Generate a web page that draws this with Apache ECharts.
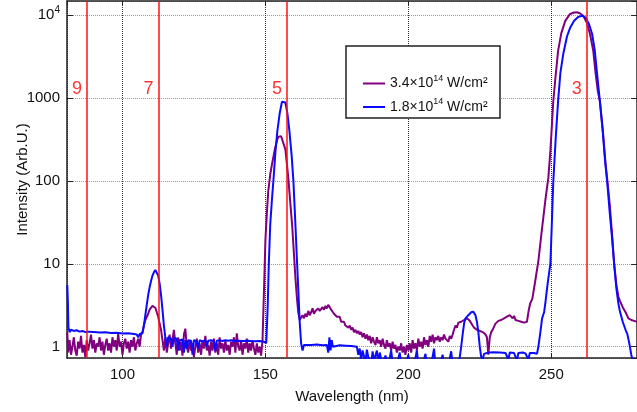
<!DOCTYPE html>
<html>
<head>
<meta charset="utf-8">
<script src="https://cdn.jsdelivr.net/npm/echarts@6/dist/echarts.min.js"></script>
<style>
  html, body { margin: 0; padding: 0; background: #fff; }
  #main { width: 637px; height: 412px; }
</style>
</head>
<body>
<div id="main"></div>
<script>
// series names (^ marks the superscript part)
var seriesNames = ['3.4×10^14 W/cm²', '1.8×10^14 W/cm²'];

// harmonic positions (nm) and their orders
var harmonicWl = [87.6, 112.6, 157.6, 262.4];
var harmonicOrder = ['9', '7', '5', '3'];
var harmonicLabelLevel = 1280;

// 3.4e14 spectrum, [wavelength nm, intensity]
var purpleNoiseA = [[80.7,1.5],[81,0.85],[81.5,1.2],[82,0.8],[82.5,1.0],[83,1.3],[83.5,0.9],[84,0.78],[84.5,1.15],[85,0.95],[85.5,1.35],[86,0.85],[86.5,1.05],[87,0.75],[87.5,1.2],[88,0.9],[88.5,1.1],[89,1.4],[89.5,0.95],[90,1.2],[90.5,0.85],[91,1.1],[91.5,1.0],[92,1.3],[92.5,0.9],[93,1.15],[93.5,0.8],[94,1.05],[94.5,1.25],[95,0.9],[95.5,1.1],[96,0.85],[96.5,1.3],[97,1.0],[97.5,1.2],[98,0.9],[98.5,1.45],[99,1.0],[99.5,1.15],[100,0.8],[100.5,1.1],[101,1.25],[101.5,0.95],[102,1.15],[102.5,0.85],[103,1.2],[103.5,1.0],[104,1.3],[104.5,0.9],[105,1.1],[105.5,1.25],[106,1.0],[106.5,1.4],[107,1.5]];
var purplePeak7 = [[107.5,1.8],[108,2.1],[108.5,2.2],[109,2.5],[109.5,2.8],[110,2.9],[110.5,3.1],[111,3.0],[111.5,2.95],[112,2.6],[112.5,2.3],[113,1.9],[113.5,1.6],[114,1.2]];
var purpleNoiseB = [[114.5,0.9],[115,1.3],[115.5,0.85],[116,1.1],[116.5,1.4],[117,0.95],[117.5,1.2],[118,1.6],[118.5,1.1],[119,0.8],[119.5,1.3],[120,0.9],[120.5,1.15],[121,0.78],[121.5,1.4],[122,1.65],[122.5,1.0],[123,0.85],[123.5,1.2],[124,0.9],[124.5,1.1],[125,0.75],[125.5,1.0],[126,1.25],[126.5,0.85],[127,1.1],[127.5,0.8],[128,1.2],[128.5,0.95],[129,1.35],[129.5,0.9],[130,1.05],[130.5,0.78],[131,1.15],[131.5,0.9],[132,1.25],[132.5,0.85],[133,1.1],[133.5,0.8],[134,1.3],[134.5,0.95],[135,1.1],[135.5,0.85],[136,1.2],[136.5,0.9],[137,1.05],[137.5,0.8],[138,1.15],[138.5,1.0],[139,1.3],[139.5,0.85],[140,1.45],[140.5,1.0],[141,0.9],[141.5,1.2],[142,0.8],[142.5,1.1],[143,0.95],[143.5,1.25],[144,0.85],[144.5,1.1],[145,0.9],[145.5,1.2],[146,0.95],[146.5,0.8],[147,1.1],[147.5,0.85],[148,1.0],[148.5,0.78]];
var purplePeak5 = [[149,1.2],[149.3,2.7],[149.7,8],[150,19],[150.5,40],[151,75],[151.7,120],[152.4,165],[153.3,240],[154.2,320],[154.6,340],[155.5,345],[156,330],[157,240],[158,110],[158.7,55],[159.4,28],[160,13],[160.5,6.8],[161,4],[161.5,2.6],[162,2.1],[163,2.4]];
var purpleMid = [[163.5,2.2],[164,2.5],[164.5,2.3],[165,2.7],[165.5,2.4],[166,2.6],[166.5,2.9],[167,2.5],[167.5,2.7],[168,2.6],[168.5,2.9],[169,2.7],[169.5,2.8],[170,3.0],[170.5,2.8],[171,3.1],[171.5,2.9],[172,3.2],[172.5,3.0],[173,2.8],[173.5,2.7],[174,2.5],[174.5,2.4],[175,2.3],[175.5,2.2],[176,2.3],[176.5,2.0],[177,1.9],[177.5,2.0],[178,1.8],[178.5,1.9],[179,1.7],[179.5,1.8],[180,1.6],[180.5,1.7],[181,1.5],[181.5,1.6],[182,1.45],[182.5,1.55],[183,1.4],[183.5,1.5],[184,1.3],[184.5,1.45],[185,1.25],[185.5,1.4],[186,1.2],[186.5,1.35],[187,1.1],[187.5,1.3],[188,1.15],[188.5,1.05],[189,1.3],[189.5,1.1],[190,1.2],[190.5,1.0],[191,1.25],[191.5,1.05],[192,0.95],[192.5,1.2],[193,1.0],[193.5,1.1],[194,0.9],[194.5,1.15],[195,0.95],[195.5,1.05],[196,0.85],[196.5,1.0],[197,0.9],[197.5,1.1],[198,0.85],[198.5,1.0],[199,0.8],[199.5,1.05],[200,0.9],[200.5,1.1],[201,0.85],[201.5,1.2],[202,0.95],[202.5,1.1],[203,0.9],[203.5,1.25],[204,1.0],[204.5,1.15],[205,0.95],[205.5,1.3],[206,1.05],[206.5,1.2],[207,1.0],[207.5,1.35],[208,1.15],[208.5,1.4],[209,1.1],[209.5,1.3],[210,1.2],[210.5,1.35],[211,1.15],[211.5,1.3],[212,1.2],[212.5,1.4],[213,1.25],[213.5,1.3],[214,1.15],[214.5,1.35],[215,1.25],[215.5,1.4],[216,1.6],[216.5,1.8],[217,1.7],[217.5,1.95],[218,1.85],[218.5,2.0],[219,1.9],[219.5,2.1],[220,2.0],[220.5,2.2],[221,2.1],[221.5,2.05],[222,1.95],[222.5,1.8],[223,1.7],[223.5,1.75],[224,1.6],[224.5,1.65],[225,1.55],[225.5,1.6],[226,1.5],[226.5,1.55],[227,1.4],[227.5,1.3],[228,0.8],[228.5,1.3],[229,1.5],[229.5,1.6],[230,1.75],[230.5,1.9],[231,2.0],[231.5,2.05],[232,1.95],[232.5,2.1],[233,2.05],[233.5,2.2],[234,2.1],[234.5,2.3],[235,2.2],[235.5,2.4],[236,2.3],[236.5,2.2],[237,2.35],[237.5,2.1],[238,2.2],[238.5,2.05],[239,2.15],[239.5,2.0],[240,2.1],[240.5,1.95],[241,2.05],[241.5,2.0]];
var purplePeak3 = [[242,2.6],[242.6,3.3],[243.4,3.8],[244.4,6.2],[245.5,10.8],[246.5,22],[247.9,57],[249,110],[249.7,230],[250.2,450],[250.7,900],[251.5,1800],[252.4,3700],[253.5,6000],[254.9,8500],[256.6,10300],[258,10700],[259,10800],[260,10500],[261.2,9800],[262.5,8000],[263.5,6000],[264.7,3700],[265.5,2000],[266.3,1200],[267,920],[268,420],[269,160],[269.7,95],[270.5,50],[271.3,22],[272,10],[272.8,5.5],[273.5,4],[274,3.6],[275,3.0],[276,2.6],[276.6,2.5],[277,2.2],[277.5,2.3],[278,2.1],[278.5,2.2],[279,2.05],[279.5,2.1],[280,2.0]];

// 1.8e14 spectrum, [wavelength nm, intensity]
var blueLow = [[80.7,5.5],[80.9,3.5],[81.1,1.7],[81.5,1.5],[82,1.6],[83,1.55],[84,1.58],[85,1.52],[86,1.55],[87,1.5],[88,1.52],[90,1.5],[92,1.48],[94,1.49],[96,1.46],[98,1.47],[100,1.44],[102,1.45],[104,1.42],[105,1.4],[105.5,1.3],[106,1.42],[106.5,1.35],[107,1.45]];
var bluePeak7 = [[107.5,1.8],[108,2.4],[108.5,3.2],[109,4.2],[109.5,5.2],[110,6.2],[110.5,7.2],[111,7.9],[111.5,8.4],[112,8.2],[112.5,7.2],[113,5.8],[113.5,4.2],[114,2.8],[114.5,1.8],[115,1.3]];
var blueFlat = [[115.5,1.0],[116,1.3],[117,1.25],[117.5,1.0],[118,1.28],[119,1.25],[119.5,0.9],[120,1.2],[121,1.22],[121.5,0.85],[122,1.2],[122.5,0.95],[123,1.2],[124,1.18],[124.5,0.8],[125,1.2],[126,1.15],[126.5,0.95],[127,1.2],[128,1.15],[129,1.2],[129.5,1.0],[130,1.18],[131,1.2],[132,1.15],[132.5,0.9],[133,1.18],[134,1.2],[135,1.17],[136,1.2],[137,1.18],[138,1.2],[139,1.17],[140,1.18],[142,1.17],[144,1.18],[146,1.16],[148,1.17],[149.5,1.15],[150.3,1.1]];
var bluePeak5 = [[150.8,3],[151.2,10],[151.7,30],[152.3,60],[152.8,100],[153.5,220],[154.2,400],[155,650],[155.8,900],[156.3,950],[157,880],[157.7,650],[158.4,400],[159.2,200],[159.8,100],[160.5,30],[161,12],[161.5,5],[162,2],[162.5,1.1],[163,0.9]];
var blueMid = [[163.5,1.05],[164,1.06],[166,1.05],[168,1.06],[170,1.04],[171.5,1.05],[172,0.85],[172.4,1.3],[172.8,0.9],[173.2,1.2],[173.6,1.0],[174,1.05],[176,1.04],[178,1.03],[180,1.02],[182,1.0],[182.5,0.8],[183,0.95],[183.5,0.7],[184,0.9],[185,0.65],[185.5,0.92],[186,0.75],[187,0.6],[187.5,0.88],[188,0.68],[189,0.9],[189.5,0.62],[190,0.85],[191,0.6],[192,0.78],[193,0.6],[194,0.9],[194.5,0.65],[196,0.6],[197,0.85],[197.5,0.6],[199,0.6],[200,0.8],[200.5,0.6],[202,0.6],[203,0.9],[203.5,0.62],[205,0.6],[206,0.82],[206.5,0.6],[208,0.6],[209,0.95],[209.5,0.6],[211,0.6],[212,0.8],[212.5,0.6],[214,0.6],[215,0.88],[215.5,0.62],[217,0.6],[218,0.75]];
var blueBump = [[218.5,1.0],[219,1.4],[219.5,1.9],[220,2.2],[221,2.4],[222,2.6],[222.7,2.65],[223.5,2.4],[224,2.0],[224.5,1.5],[225,1.0],[225.5,0.75],[226,0.7],[226.5,0.82],[227,0.84],[228,0.85],[230,0.86],[232,0.85],[234,0.84],[235,0.7],[235.5,0.85],[237,0.84],[238,0.68],[238.5,0.84],[240,0.85],[241,0.83],[242,0.7],[242.5,0.84],[244,0.84],[245,0.82]];
var bluePeak3 = [[245.5,1.0],[246.2,1.5],[246.8,2.2],[247.5,2.6],[248,3.5],[248.8,6],[249.7,10],[250.2,30],[250.7,95],[251.5,300],[252.4,920],[253.2,2000],[254.2,3380],[255.5,5500],[256.6,7000],[258,8500],[259.5,9500],[260.8,9800],[262,9300],[263.2,7800],[264.3,5900],[265.2,3800],[266,2000],[267,920],[268,400],[268.8,180],[269.6,95],[270.5,40],[271.3,20],[272,10],[272.8,5],[273.5,3.3],[274,2.7],[275,2.0],[276,1.6],[276.6,1.43],[277.3,1.1],[278,0.8],[278.3,0.72],[278.8,0.6]];

var purpleData = [].concat(purpleNoiseA, purplePeak7, purpleNoiseB, purplePeak5, purpleMid, purplePeak3);
var blueData = [].concat(blueLow, bluePeak7, blueFlat, bluePeak5, blueMid, blueBump, bluePeak3);

var FONT = 'Liberation Sans';
var chart = echarts.init(document.getElementById('main'));

function supText(name) {
  return '{b|' + name.replace(/\^(\d+)/, '}{s|$1}{b|') + '}';
}

var supRich = {
  b: { fontFamily: FONT, fontSize: 15, color: '#111', lineHeight: 20 },
  s: { fontFamily: FONT, fontSize: 10, color: '#111', lineHeight: 12, verticalAlign: 'top' }
};

var option = {
  animation: false,
  backgroundColor: '#fff',
  grid: { left: 67, right: 0, top: 1, bottom: 54, outerBoundsMode: 'none' },
  graphic: [{
    type: 'rect', z: 50,
    shape: { x: 346, y: 46, width: 154, height: 72 },
    style: { fill: '#fff', stroke: '#222', lineWidth: 1.5 }
  }],
  legend: {
    z: 100,
    data: seriesNames,
    orient: 'vertical',
    left: 358, top: 69,
    itemWidth: 22, itemHeight: 2, itemGap: 7,
    icon: 'rect',
    formatter: supText,
    textStyle: {
      rich: {
        b: { fontFamily: FONT, fontSize: 14, color: '#111', lineHeight: 19 },
        s: { fontFamily: FONT, fontSize: 9, color: '#111', lineHeight: 11, verticalAlign: 'top' }
      }
    }
  },
  xAxis: [{
    type: 'value', min: 80.6, max: 280, splitNumber: 4,
    name: 'Wavelength (nm)', nameLocation: 'middle', nameGap: 31,
    nameTextStyle: { fontFamily: FONT, fontSize: 15, color: '#111' },
    axisLine: { lineStyle: { color: '#222', width: 1.5 } },
    axisTick: { inside: true, length: 5, lineStyle: { color: '#222' } },
    axisLabel: { fontFamily: FONT, fontSize: 15, color: '#111', margin: 9, showMinLabel: false, showMaxLabel: false },
    splitLine: { show: true, lineStyle: { type: 'dotted', color: '#333', width: 1 } }
  }, {
    type: 'value', min: 80.6, max: 280, splitNumber: 4, position: 'top',
    axisLine: { lineStyle: { color: '#222', width: 1.5 } },
    axisTick: { inside: true, length: 5, lineStyle: { color: '#222' } },
    axisLabel: { show: false },
    splitLine: { show: false }
  }],
  yAxis: [{
    type: 'log', logBase: 10, min: 0.731, max: 14750,
    name: 'Intensity (Arb.U.)', nameLocation: 'middle', nameGap: 37, nameMoveOverlap: false,
    nameTextStyle: { fontFamily: FONT, fontSize: 15, color: '#111' },
    axisLine: { show: true, lineStyle: { color: '#222', width: 1.5 } },
    axisTick: { inside: true, length: 6, lineStyle: { color: '#222' } },
    axisLabel: {
      fontFamily: FONT, fontSize: 15, color: '#111', margin: 7,
      showMinLabel: false, showMaxLabel: false,
      formatter: function (v) {
        var r = Math.round(v);
        return r >= 10000 ? supText('10^4') : '{b|' + r + '}';
      },
      rich: supRich
    },
    splitLine: { show: true, lineStyle: { type: 'dotted', color: '#999', width: 1 } }
  }, {
    type: 'log', logBase: 10, min: 0.731, max: 14750, position: 'right',
    axisLine: { show: true, lineStyle: { color: '#222', width: 1.5 } },
    axisTick: { inside: true, length: 6, lineStyle: { color: '#222' } },
    axisLabel: { show: false },
    splitLine: { show: false }
  }],
  series: [{
    name: seriesNames[0], type: 'line', data: purpleData,
    showSymbol: false, symbol: 'none',
    lineStyle: { color: '#800080', width: 2 }, itemStyle: { color: '#800080' }
  }, {
    name: seriesNames[1], type: 'line', data: blueData,
    showSymbol: false, symbol: 'none',
    lineStyle: { color: '#0a0aff', width: 2 }, itemStyle: { color: '#0a0aff' }
  }, {
    name: 'harmonics', type: 'scatter', symbolSize: 0,
    data: harmonicWl.map(function (w, i) { return { value: [w, harmonicLabelLevel], name: harmonicOrder[i] }; }),
    label: {
      show: true, position: 'left', distance: 5,
      formatter: '{b}', fontFamily: FONT, fontSize: 18, color: '#ff0000'
    },
    markLine: {
      silent: true, symbol: 'none',
      label: { show: false },
      lineStyle: { color: '#ff1010', width: 1.5, type: 'solid' },
      data: harmonicWl.map(function (w) { return { xAxis: w }; })
    }
  }]
};

chart.setOption(option);
</script>
</body>
</html>
